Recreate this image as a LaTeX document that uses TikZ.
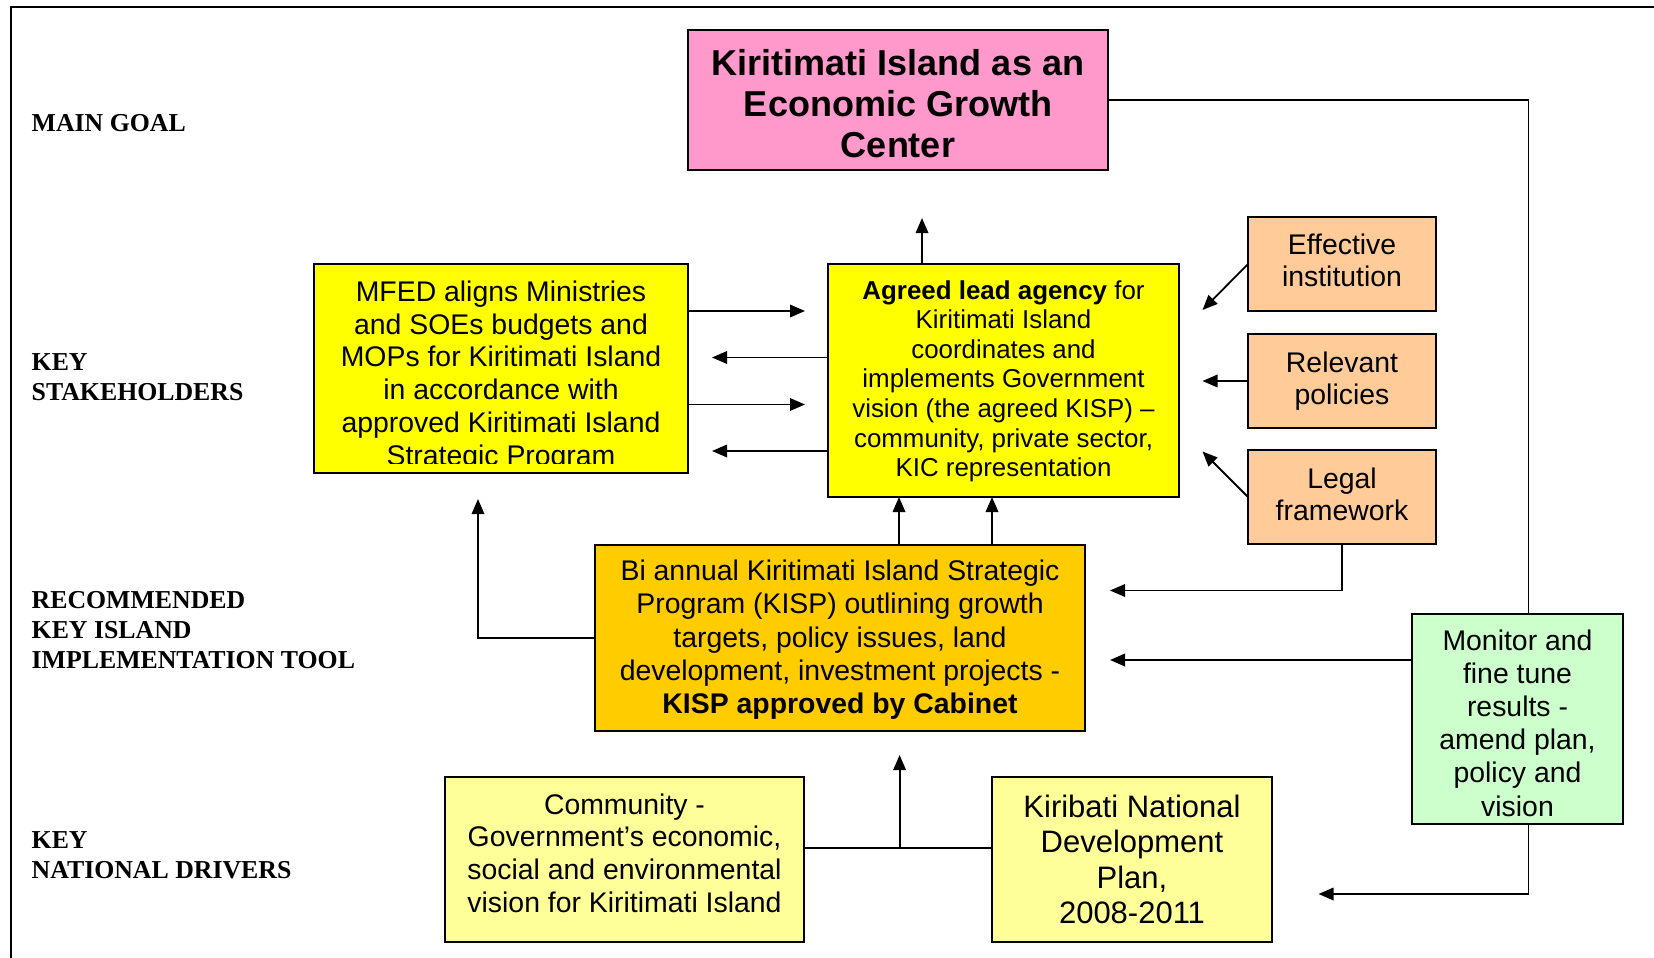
\documentclass[tikz,border=0pt]{standalone}
\usepackage{fontspec}
\setmainfont{Liberation Serif}
\newfontfamily\arialf{Liberation Sans}
\usetikzlibrary{arrows.meta}
\definecolor{pinkc}{HTML}{FF99CC}
\definecolor{yellc}{HTML}{FFFF00}
\definecolor{orgc}{HTML}{FFCC99}
\definecolor{goldc}{HTML}{FFCC00}
\definecolor{greenc}{HTML}{CCFFCC}
\definecolor{lyellc}{HTML}{FFFF99}
\newcommand{\setfs}[2]{\fontsize{#1}{#2}\selectfont}
\newcommand{\mlc}[1]{\begin{tabular}[t]{@{}c@{}}#1\end{tabular}}
\newcommand{\mll}[1]{\begin{tabular}[t]{@{}l@{}}#1\end{tabular}}
\tikzset{
  box/.style={draw=black, line width=1.8pt, inner sep=0pt, outer sep=0pt},
  txt/.style={inner sep=0pt, anchor=base},
  lab/.style={inner sep=0pt, anchor=base west, font=\bfseries\setfs{25.8}{30}},
  body/.style={font=\arialf\setfs{28.4}{32.8}},
  conn/.style={line width=1.8pt},
  arr/.style={line width=1.8pt, -{Triangle[length=15pt,width=12.5pt]}},
}
\begin{document}
\begin{tikzpicture}[x=1pt,y=-1pt]
\useasboundingbox (0,0) rectangle (1654,958);
% frame
\draw[line width=2pt] (10.5,958) -- (10.5,7.4) -- (1654,7.4);

% row labels
\node[lab] (lgoal) at (31.5,131.5) {MAIN GOAL};
\node[lab] (lstake) at (31.5,370) {\mll{KEY\\STAKEHOLDERS}};
\node[lab] (ltool) at (31.5,608.5) {\mll{RECOMMENDED\\KEY ISLAND\\IMPLEMENTATION TOOL}};
\node[lab] (ldrv) at (31.5,848) {\mll{KEY\\NATIONAL DRIVERS}};

% boxes
\node[box, fill=pinkc, minimum width=420pt, minimum height=140pt] (goal) at (898,100) {};
\node[box, fill=yellc, minimum width=374pt, minimum height=209pt] (mfed) at (501,368.5) {};
\node[box, fill=yellc, minimum width=351pt, minimum height=233pt] (agency) at (1003.5,380.5) {};
\node[box, fill=orgc, minimum width=188pt, minimum height=94pt] (eff) at (1342,264) {};
\node[box, fill=orgc, minimum width=188pt, minimum height=94pt] (rel) at (1342,381) {};
\node[box, fill=orgc, minimum width=188pt, minimum height=94pt] (legal) at (1342,497) {};
\node[box, fill=goldc, minimum width=490pt, minimum height=186pt] (kisp) at (840,638) {};
\node[box, fill=greenc, minimum width=211pt, minimum height=210pt] (green) at (1517.5,719) {};
\node[box, fill=lyellc, minimum width=359pt, minimum height=165pt] (comm) at (624.5,859.5) {};
\node[box, fill=lyellc, minimum width=280pt, minimum height=165pt] (ndp) at (1132,859.5) {};

% box texts
\node[txt, font=\arialf\bfseries\setfs{36}{41}] (goal-t) at (898,75.5)
  {\mlc{Kiritimati Island as an\\Economic Growth\\Center}};
\begin{scope}
\clip (314,264) rectangle (688,463);
\node[txt, body] (mfed-t) at (501,301.3)
  {\mlc{MFED aligns Ministries\\and SOEs budgets and\\MOPs for Kiritimati Island\\in accordance with\\approved Kiritimati Island\\Strategic Program}};
\end{scope}
\node[txt, font=\arialf\setfs{25.9}{29.6}] (agency-t) at (1003.5,299)
  {\mlc{\textbf{Agreed lead agency} for\\Kiritimati Island\\coordinates and\\implements Government\\vision (the agreed KISP) –\\community, private sector,\\KIC representation}};
\node[txt, body] (eff-t) at (1342,254) {\mlc{Effective\\institution}};
\node[txt, body] (rel-t) at (1342,372) {\mlc{Relevant\\policies}};
\node[txt, body] (legal-t) at (1342,488) {\mlc{Legal\\framework}};
\node[txt, font=\arialf\setfs{28.4}{33.1}] (kisp-t) at (840,580.8)
  {\mlc{Bi annual Kiritimati Island Strategic\\Program (KISP) outlining growth\\targets, policy issues, land\\development, investment projects -\\\textbf{KISP approved by Cabinet}}};
\node[txt, font=\arialf\setfs{28.4}{33.1}] (green-t) at (1517.5,650.5)
  {\mlc{Monitor and\\fine tune\\results -\\amend plan,\\policy and\\vision}};
\node[txt, body] (comm-t) at (624.5,814)
  {\mlc{Community -\\Government’s economic,\\social and environmental\\vision for Kiritimati Island}};
\node[txt, font=\arialf\setfs{31}{35.4}] (ndp-t) at (1132,817.5)
  {\mlc{Kiribati National\\Development\\Plan,\\2008-2011}};

% free connector ends
\coordinate (gt) at ([xshift=11pt]green.north);
\coordinate (gb) at ([xshift=11pt]green.south);
\coordinate (ndpa) at (1318.5,894);
\coordinate (upt) at (922,218);
\coordinate (a1) at (805,311);
\coordinate (a2) at (712,357.5);
\coordinate (a3) at (805,404.5);
\coordinate (a4) at (712,451);
\coordinate (e1) at (1202.5,310);
\coordinate (r1) at (1202.5,381);
\coordinate (l1) at (1202.5,451.5);
\coordinate (l2) at (1110,590.5);
\coordinate (g1) at (1110,660);
\coordinate (m1) at (478,499);
\coordinate (j) at (899.6,848);
\coordinate (jt) at (899.6,755);

% connectors
\draw[conn] (goal.east) -| (gt);
\draw[arr] (gb) |- (ndpa);
\draw[arr] (agency.north -| upt) -- (upt);
\draw[arr] (mfed.east |- a1) -- (a1);
\draw[arr] (agency.west |- a2) -- (a2);
\draw[arr] (mfed.east |- a3) -- (a3);
\draw[arr] (agency.west |- a4) -- (a4);
\draw[arr] (eff.west) -- (e1);
\draw[arr] (rel.west) -- (r1);
\draw[arr] (legal.west) -- (l1);
\draw[arr] (legal.south) |- (l2);
\draw[arr] (green.west |- g1) -- (g1);
\draw[arr] ([xshift=59pt]kisp.north) coordinate (k1) -- (k1 |- agency.south);
\draw[arr] ([xshift=152pt]kisp.north) coordinate (k2) -- (k2 |- agency.south);
\draw[arr] (kisp.west) -| (m1);
\draw[conn] (comm.east |- j) -- (ndp.west |- j);
\draw[arr] (j) -- (jt);
\end{tikzpicture}
\end{document}
